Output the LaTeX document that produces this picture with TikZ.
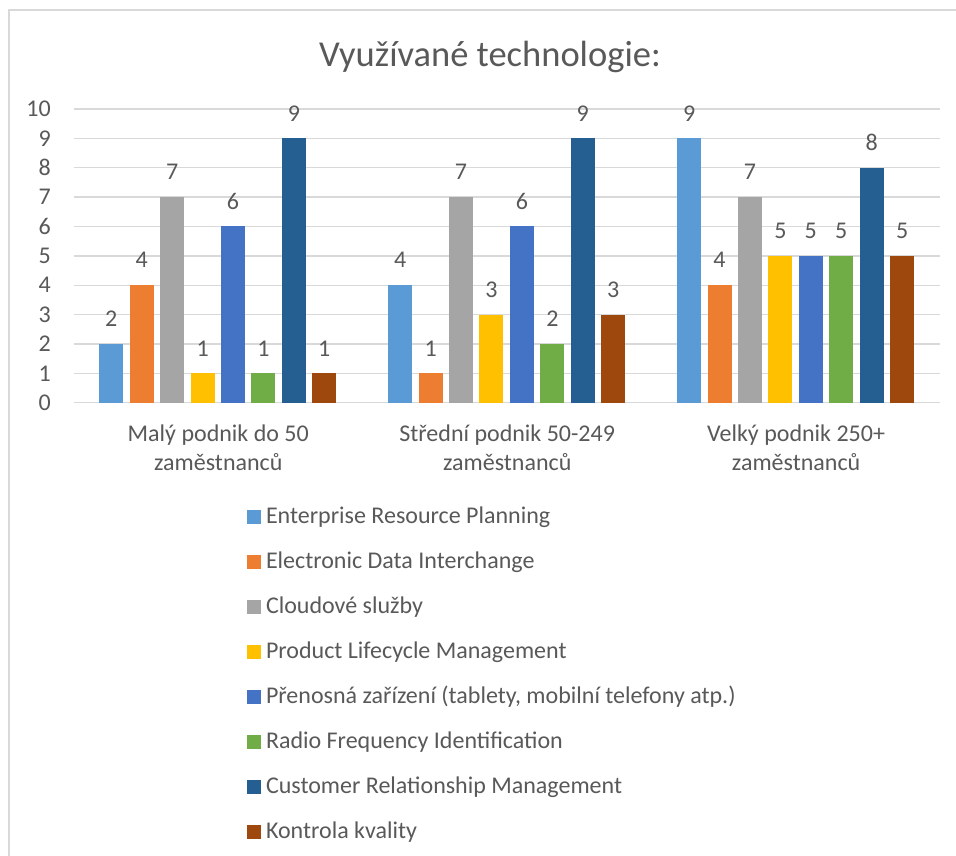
\documentclass[tikz,border=0pt]{standalone}
\usepackage{fontspec}
\setmainfont{Carlito}
\definecolor{txt}{HTML}{595959}
\definecolor{gridc}{HTML}{D9D9D9}
\definecolor{c0}{HTML}{5B9BD5}
\definecolor{c1}{HTML}{ED7D31}
\definecolor{c2}{HTML}{A5A5A5}
\definecolor{c3}{HTML}{FFC000}
\definecolor{c4}{HTML}{4472C4}
\definecolor{c5}{HTML}{70AD47}
\definecolor{c6}{HTML}{255E91}
\definecolor{c7}{HTML}{9E480E}
\begin{document}
\begin{tikzpicture}[x=1pt,y=-1pt,
  lbl/.style={text=txt, font=\fontsize{24}{28}\selectfont, inner sep=0pt},
  gridline/.style={draw=gridc, line width=1.4pt},
  framebox/.style={draw=gridc, line width=1.5pt}]
\useasboundingbox (0,0) rectangle (956,856);
\fill[white] (0,0) rectangle (956,856);
\coordinate (fbl) at (9,870);
\coordinate (ftl) at (9,10);
\coordinate (ftr) at (970,10);
\draw[framebox] (fbl) -- (ftl) -- (ftr);
% title
\node[text=txt, font=\fontsize{36.5}{40}\selectfont, inner sep=0pt, anchor=base] (title) at (490,66.7) {Využívané technologie:};
% grid and ticks
\foreach \v in {0,...,10} {
  \pgfmathsetmacro\yy{402.7-29.37*\v}
  \coordinate (gl\v) at (73.5,\yy);
  \coordinate (gr\v) at (940,\yy);
  \draw[gridline] (gl\v) -- (gr\v);
  \node[lbl, anchor=east] (tick\v) at (51,\yy) {\v};
}
% bars
\foreach \g/\vals in {0/{2,4,7,1,6,1,9,1},1/{4,1,7,3,6,2,9,3},2/{9,4,7,5,5,5,8,5}} {
  \foreach \v [count=\s from 0] in \vals {
    \pgfmathsetmacro\xl{99.3+288.9*\g+30.43*\s}
    \pgfmathsetmacro\yt{402.7-29.37*\v}
    \fill[c\s] (\xl,\yt) rectangle ({\xl+24},402.7);
    \node[lbl, anchor=base] (d\g\s) at ({\xl+12},{\yt-17.3}) {\v};
  }
}
% category labels
\node[lbl, anchor=base] (cat1a) at (218.3,441.7) {Malý podnik do 50};
\node[lbl, anchor=base] (cat1b) at (218.3,470) {zaměstnanců};
\node[lbl, anchor=base] (cat2a) at (507.2,441.7) {Střední podnik 50-249};
\node[lbl, anchor=base] (cat2b) at (507.2,470) {zaměstnanců};
\node[lbl, anchor=base] (cat3a) at (796.1,441.7) {Velký podnik 250+};
\node[lbl, anchor=base] (cat3b) at (796.1,470) {zaměstnanců};
% legend
\foreach \t [count=\k from 0] in {Enterprise Resource Planning,Electronic Data Interchange,Cloudové služby,Product Lifecycle Management,{Přenosná zařízení (tablety, mobilní telefony atp.)},Radio Frequency Identification,Customer Relationship Management,Kontrola kvality} {
  \pgfmathsetmacro\ly{517+45*\k}
  \fill[c\k] (246.7,{\ly-7}) rectangle (260.7,{\ly+7});
  \node[lbl, anchor=base west] (leg\k) at (265.8,{\ly+6.3}) {\t};
}
\end{tikzpicture}
\end{document}
